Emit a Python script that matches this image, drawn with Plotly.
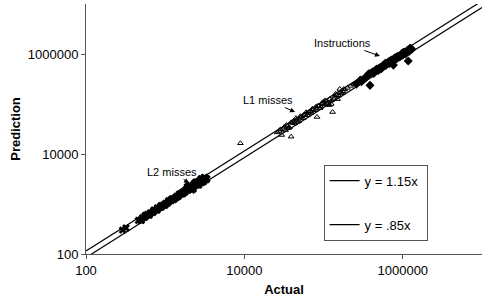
import numpy as np
import plotly.graph_objects as go

# ---- data ----
l2_actual = [290, 320, 460, 490, 520, 550, 580, 610, 650, 690, 730, 770, 810, 860, 910, 960,
             1010, 1070, 1130, 1190, 1250, 1320, 1390, 1460, 1540, 1620, 1700, 1780, 1860, 1950,
             2040, 2130, 2220, 2310, 2400, 2500, 2600, 2700, 2800, 2900, 3000, 3100, 3200, 3350,
             2050, 2250, 2450, 2650, 2850, 3050, 1900, 2150, 1000, 1200, 1400, 1600,
             600, 700, 800, 900, 2350, 2550, 2750, 2950, 3150, 3300,
             500, 560, 630, 720, 790, 880, 980, 1100, 1280, 1500, 1680, 1820,
             2000, 2200, 2420, 2620, 2880, 3120]
l2_pred = [300, 330, 470, 480, 530, 540, 590, 600, 660, 680, 740, 760, 820, 850, 930, 950,
           1030, 1050, 1150, 1170, 1280, 1300, 1420, 1430, 1580, 1590, 1760, 1740, 1950, 1900,
           2180, 2050, 2350, 2230, 2560, 2400, 2750, 2600, 2950, 2780, 3150, 2950, 3300, 3200,
           2400, 2000, 2750, 2400, 3200, 2800, 2200, 1900, 960, 1240, 1360, 1650,
           620, 680, 830, 880, 2600, 2450, 2950, 2800, 3350, 3100,
           470, 590, 600, 750, 760, 910, 940, 1150, 1230, 1560, 1620, 1900,
           2300, 2100, 2600, 2800, 2700, 3400]

l1_actual = [8900, 26000, 27400, 29600, 31000, 33000, 35000, 37000, 38900, 40000, 43000, 46000,
             49000, 52000, 55000, 58000, 62000, 66000, 70000, 74000, 78000, 82600, 87000, 92000,
             97000, 102000, 108000, 114000, 120000, 126000, 130000, 138000, 146000, 155000,
             165000, 175000, 185000, 200000, 220000, 240000, 45000, 60000, 80000, 100000,
             125000, 150000, 34000, 41000, 68000, 95000, 118000, 160000,
             28500, 32000, 36000, 39000, 42000, 47000, 51000, 56000, 64000, 72000, 85000,
             90000, 105000, 112000, 135000, 142000, 170000, 180000]
l1_pred = [16400, 27000, 28800, 24000, 32000, 30000, 36000, 34000, 22200, 42000, 41000, 48000,
           46000, 55000, 52000, 61000, 60000, 70000, 67000, 78000, 75000, 55000, 90000, 88000,
           100000, 98000, 112000, 106000, 125000, 118000, 69000, 140000, 150000, 148000,
           170000, 180000, 195000, 210000, 230000, 250000, 52000, 68000, 88000, 112000,
           100000, 125000, 38000, 44000, 72000, 104000, 95000, 200000,
           31000, 35000, 33000, 43000, 46000, 44000, 57000, 60000, 66000, 80000, 92000,
           82000, 118000, 100000, 128000, 160000, 165000, 200000]

instr_actual = [260000, 290000, 320000, 350000, 385000, 400000, 430000, 460000, 490000, 520000,
                550000, 580000, 610000, 640000, 680000, 720000, 760000, 800000, 840000, 880000,
                920000, 960000, 1000000, 1050000, 1100000, 1150000, 1200000, 1250000, 1300000,
                700000, 750000, 820000, 900000, 980000, 1080000, 1170000, 450000, 500000,
                560000, 620000, 300000, 340000, 370000, 420000, 470000, 530000, 600000,
                660000, 730000, 780000, 860000, 940000, 1020000, 1120000, 1220000]
instr_pred = [250000, 300000, 310000, 360000, 236000, 420000, 410000, 480000, 470000, 540000,
              530000, 600000, 590000, 660000, 650000, 760000, 600000, 830000, 810000, 900000,
              880000, 980000, 950000, 1080000, 1050000, 1180000, 1120000, 1300000, 1250000,
              740000, 700000, 860000, 870000, 1030000, 1000000, 725000, 470000, 520000,
              580000, 640000, 280000, 330000, 400000, 440000, 500000, 500000, 650000,
              700000, 700000, 820000, 900000, 920000, 1080000, 1150000, 1280000]

ref_x = [100, 10000000]
ref_slopes = [1.15, 0.85]
ref_names = ["y = 1.15x\u00a0", "y = .85x\u00a0"]

tick_vals = [100, 10000, 1000000]
tick_text = ["100", "10000", "1000000"]

FONT = "Liberation Sans, Arial, sans-serif"

fig = go.Figure()

for i, (s, n) in enumerate(zip(ref_slopes, ref_names)):
    fig.add_trace(go.Scatter(
        x=ref_x, y=list(np.array(ref_x) * s), mode="lines", name=n,
        line=dict(color="black", width=1.2), legendgroup=f"g{i}", showlegend=True))

fig.add_trace(go.Scatter(x=l2_actual, y=l2_pred, mode="markers", name="L2 misses",
                         showlegend=False,
                         marker=dict(symbol="x", size=7, color="black")))
fig.add_trace(go.Scatter(x=l1_actual, y=l1_pred, mode="markers", name="L1 misses",
                         showlegend=False,
                         marker=dict(symbol="triangle-up-open", size=5, color="black",
                                     line=dict(width=1, color="black"))))
fig.add_trace(go.Scatter(x=instr_actual, y=instr_pred, mode="markers", name="Instructions",
                         showlegend=False,
                         marker=dict(symbol="diamond", size=7, color="black")))

ann = [
    ("Instructions", 515000, 912000, -37, -13),
    ("L1 misses", 43600, 69000, -27, -12),
    ("L2 misses", 2000, 2630, -17, -11),
]
for text, x, y, ax, ay in ann:
    fig.add_annotation(x=np.log10(x), y=np.log10(y), xref="x", yref="y", text=text,
                       showarrow=True, arrowhead=2, arrowsize=1, arrowwidth=1,
                       arrowcolor="black", ax=ax, ay=ay,
                       font=dict(family=FONT, size=11, color="black"))

axis_common = dict(type="log", showgrid=False, zeroline=False, showline=True,
                   linecolor="#555555", linewidth=1, ticks="outside", ticklen=4,
                   tickcolor="#555555", tickvals=tick_vals, ticktext=tick_text,
                   automargin=False,
                   tickfont=dict(family=FONT, size=13, color="black"))

fig.update_layout(
    width=482, height=302,
    margin=dict(l=86, r=0, t=4, b=48),
    paper_bgcolor="white", plot_bgcolor="white",
    xaxis=dict(range=[2, 7], title=dict(text="<b>Actual</b>", standoff=8,
                                        font=dict(family=FONT, size=13, color="black")),
               **axis_common),
    yaxis=dict(range=[2, 7], title=dict(text="<b>Prediction</b>", standoff=4,
                                        font=dict(family=FONT, size=13, color="black")),
               **axis_common),
    legend=dict(x=0.6, y=0.357, xanchor="left", yanchor="top",
                bordercolor="#555555", borderwidth=1, bgcolor="white",
                tracegroupgap=24, font=dict(family=FONT, size=13, color="black")),
)

fig.write_html("out.html", config={"displayModeBar": False},
               post_script="document.body.style.margin='0';document.body.style.overflow='hidden';")
